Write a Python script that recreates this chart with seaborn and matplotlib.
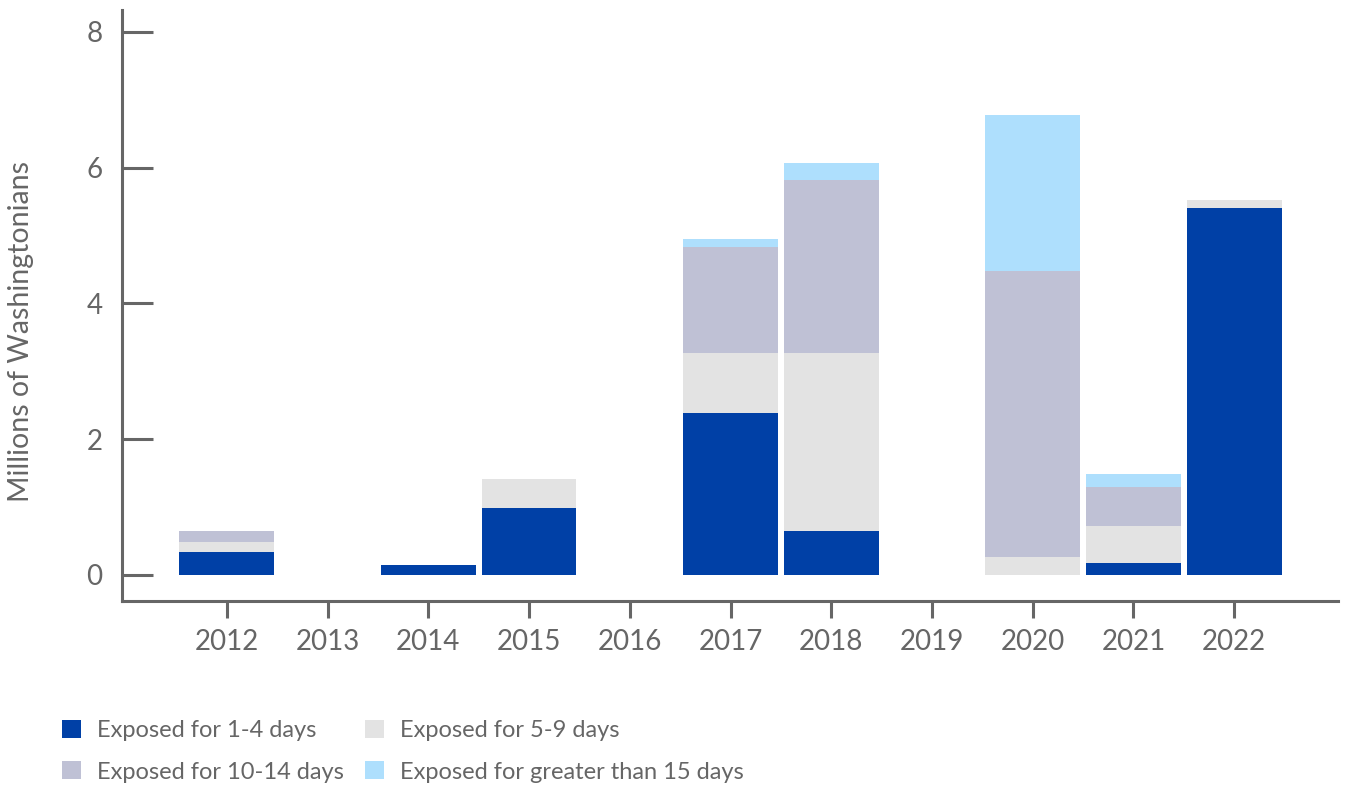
import matplotlib
matplotlib.use("Agg")
import matplotlib.pyplot as plt
import seaborn as sns
import numpy as np
import pandas as pd
from matplotlib.patches import Patch

years = ["2012", "2013", "2014", "2015", "2016", "2017", "2018", "2019", "2020", "2021", "2022"]
days_1_4 = [0.34, 0, 0.15, 0.99, 0, 2.39, 0.65, 0, 0, 0.18, 5.41]
days_5_9 = [0.15, 0, 0, 0.42, 0, 0.88, 2.62, 0, 0.27, 0.54, 0.11]
days_10_14 = [0.16, 0, 0, 0, 0, 1.56, 2.55, 0, 4.21, 0.58, 0]
days_15_plus = [0, 0, 0, 0, 0, 0.12, 0.24, 0, 2.30, 0.19, 0]

series_names = [
    "Exposed for 1-4 days",
    "Exposed for 5-9 days",
    "Exposed for 10-14 days",
    "Exposed for greater than 15 days",
]
series_colors = ["#0040A6", "#E3E3E3", "#BFC1D5", "#AEDFFD"]

sns.set_style("white")
plt.rcParams["font.family"] = ["Lato", "DejaVu Sans"]
text_color = "#666666"

fig = plt.figure(figsize=(13.45, 7.89), dpi=100)
ax = fig.add_axes([122 / 1345, 1 - 601 / 789, (1338 - 122) / 1345, (601 - 10) / 789])

# stacked bars: draw cumulative totals, tallest layer first
layers = [days_1_4, days_5_9, days_10_14, days_15_plus]
cum = np.cumsum(np.array(layers), axis=0)
for i in reversed(range(len(layers))):
    df = pd.DataFrame({"year": years, "value": cum[i]})
    sns.barplot(data=df, x="year", y="value", order=years, color=series_colors[i],
                saturation=1, width=0.94, linewidth=0, ax=ax)

ax.set_xlim(-1.04, 11.03)
ax.set_ylim(-0.383, 8.32)
ax.set_yticks([0, 2, 4, 6, 8])
ax.set_xlabel("")
ax.set_ylabel("Millions of Washingtonians", fontsize=20.5, color=text_color)
ax.yaxis.set_label_coords((34 - 122) / 1216, (601 - 332) / 591)

for side in ["top", "right"]:
    ax.spines[side].set_visible(False)
for side in ["left", "bottom"]:
    ax.spines[side].set_color(text_color)
    ax.spines[side].set_linewidth(2.2)

ax.tick_params(axis="y", direction="in", length=22, width=2.2, color=text_color,
               labelcolor=text_color, labelsize=20, pad=14, left=True)
ax.tick_params(axis="x", direction="out", length=12, width=2.2, color=text_color,
               labelcolor=text_color, labelsize=20, pad=8, bottom=True)

handles = [Patch(facecolor=c, edgecolor="none") for c in series_colors]
order = [0, 2, 1, 3]
fig.legend([handles[k] for k in order], [series_names[k] for k in order],
           loc="upper left", bbox_to_anchor=(62 / 1345, 1 - 720 / 789), ncol=2,
           frameon=False, fontsize=17, labelcolor=text_color,
           handlelength=0.8, handleheight=0.8, handletextpad=0.68,
           columnspacing=0.9, labelspacing=0.85, borderaxespad=0, borderpad=0)

fig.savefig("out.png", dpi=100, facecolor="white")
